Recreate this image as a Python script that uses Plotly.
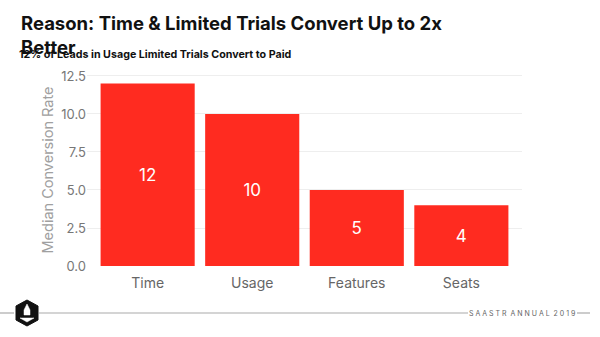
import plotly.graph_objects as go

# Chart data
categories = ["Time", "Usage", "Features", "Seats"]
conversion_rates = [12, 10, 5, 4]
y_ticks = [0.0, 2.5, 5.0, 7.5, 10.0, 12.5]

RED = "#FF2B20"
GREY = "#7A7A7A"
FONT = "Inter, 'Open Sans', sans-serif"

fig = go.Figure(
    go.Bar(
        x=categories,
        y=conversion_rates,
        text=[str(v) for v in conversion_rates],
        textposition="inside",
        insidetextanchor="middle",
        textfont=dict(color="white", size=17, family=FONT),
        marker=dict(color=RED, line=dict(width=0)),
        hoverinfo="skip",
    )
)

fig.update_layout(
    width=600,
    height=337,
    margin=dict(l=87, r=78, t=74, b=71),
    paper_bgcolor="white",
    plot_bgcolor="white",
    bargap=0.1,
    showlegend=False,
    font=dict(family=FONT, color=GREY),
    xaxis=dict(
        range=[-0.58, 3.58],
        showgrid=False,
        showline=False,
        zeroline=False,
        ticks="",
        ticklabelstandoff=7,
        tickfont=dict(size=14, color="#666666"),
    ),
    yaxis=dict(
        range=[0, 12.63],
        tickvals=y_ticks,
        tickformat=".1f",
        showgrid=True,
        gridcolor="#EEEEEE",
        gridwidth=1,
        zeroline=False,
        showline=False,
        ticks="",
        tickfont=dict(size=13, color="#777777"),
        title=dict(text="Median Conversion Rate", font=dict(size=14.5, color="#A0A0A0"), standoff=4),
    ),
)

# Title, wrapped onto two lines
fig.add_annotation(
    text="<b>Reason: Time &amp; Limited Trials Convert Up to 2x<br>Better</b>",
    xref="paper", yref="paper", x=0, y=1, xanchor="left", yanchor="top",
    xshift=-68, yshift=64, align="left", showarrow=False,
    font=dict(size=18.5, color="#111111", family=FONT),
)
# Subtitle
fig.add_annotation(
    text="<b>12% of Leads in Usage Limited Trials Convert to Paid</b>",
    xref="paper", yref="paper", x=0, y=1, xanchor="left", yanchor="top",
    xshift=-70, yshift=28, align="left", showarrow=False,
    font=dict(size=10.7, color="#111111", family=FONT),
)


def px(xp, yp):
    """Convert page pixels into paper coordinates of the plot area."""
    return ((xp - 87) / 435, (266 - yp) / 192)


# Footer rule, badge and event label
line_style = dict(color="#AAAAAA", width=1.2)
for a, b in [(0, 14), (39, 468), (577, 590)]:
    x0, y0 = px(a, 313)
    x1, _ = px(b, 313)
    fig.add_shape(type="line", xref="paper", yref="paper",
                  x0=x0, x1=x1, y0=y0, y1=y0, line=line_style)


def poly(points):
    return "M " + " L ".join(f"{px(a, b)[0]},{px(a, b)[1]}" for a, b in points) + " Z"


hexagon = [(27, 300), (38, 306), (38, 320), (27, 326), (16, 320), (16, 306)]
fig.add_shape(type="path", xref="paper", yref="paper", path=poly(hexagon),
              fillcolor="#111111", line=dict(color="#111111", width=1))
rocket = [(27, 304), (30, 310), (30, 315), (24, 315), (24, 310)]
fig.add_shape(type="path", xref="paper", yref="paper", path=poly(rocket),
              fillcolor="white", line=dict(color="white", width=0.5))
base = [(20, 318), (34, 318), (27, 322)]
fig.add_shape(type="path", xref="paper", yref="paper", path=poly(base),
              fillcolor="white", line=dict(color="white", width=0.5))

lx, ly = px(522, 313)
fig.add_annotation(
    text="S A A S T R&nbsp; A N N U A L&nbsp; 2 0 1 9",
    xref="paper", yref="paper", x=lx, y=ly,
    xanchor="center", yanchor="middle", showarrow=False,
    font=dict(size=7, color="#666666", family=FONT),
)

fig.write_html("out.html")
